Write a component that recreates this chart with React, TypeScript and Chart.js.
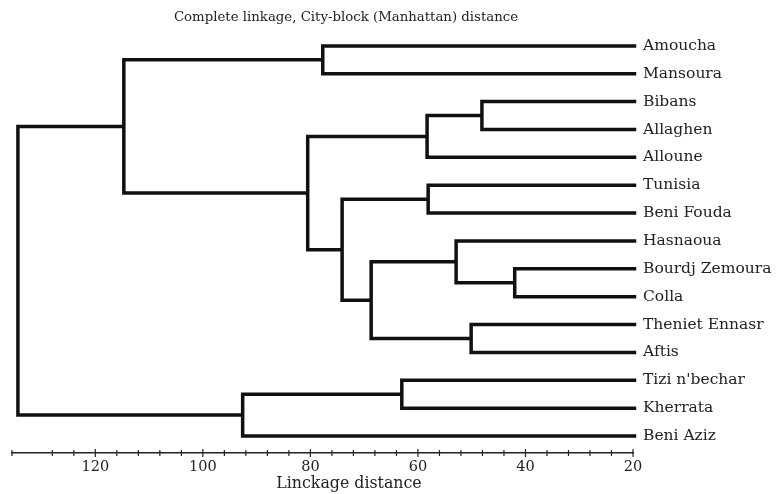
import React, { useEffect, useRef } from 'react';
import { Chart, registerables } from 'chart.js';

Chart.register(...registerables);

// ---- data ----
const leafNames = [
  'Amoucha',
  'Mansoura',
  'Bibans',
  'Allaghen',
  'Alloune',
  'Tunisia',
  'Beni Fouda',
  'Hasnaoua',
  'Bourdj Zemoura',
  'Colla',
  'Theniet Ennasr',
  'Aftis',
  "Tizi n'bechar",
  'Kherrata',
  'Beni Aziz',
];
const leafHeight = 19.4;
// merges: node ids 0..14 are leaves, 15.. are merges in order
const mergeLeft = [0, 2, 16, 5, 8, 7, 10, 20, 18, 17, 15, 12, 26, 25];
const mergeRight = [1, 3, 4, 6, 9, 19, 11, 21, 22, 23, 24, 13, 14, 27];
const mergeHeight = [77.7, 48.1, 58.3, 58.1, 42.0, 52.9, 50.1, 68.7, 74.1, 80.5, 114.7, 63.0, 92.6, 134.4];
const xTickLabels = [120, 100, 80, 60, 40, 20];
const chartTitle = 'Complete linkage, City-block (Manhattan) distance';
const xAxisTitle = 'Linckage distance';

const SERIF = '"DejaVu Serif", "Liberation Serif", serif';

export default function App() {
  const ref = useRef<HTMLCanvasElement | null>(null);

  useEffect(() => {
    if (!ref.current) return;
    const nodeY: number[] = leafNames.map((_, i) => i);
    const nodeH: number[] = leafNames.map(() => leafHeight);
    mergeLeft.forEach((a, k) => {
      const b = mergeRight[k];
      nodeY.push((nodeY[a] + nodeY[b]) / 2);
      nodeH.push(mergeHeight[k]);
    });
    const datasets = mergeLeft.map((a, k) => {
      const b = mergeRight[k];
      const h = mergeHeight[k];
      return {
        data: [
          { x: nodeH[a], y: nodeY[a] },
          { x: h, y: nodeY[a] },
          { x: h, y: nodeY[b] },
          { x: nodeH[b], y: nodeY[b] },
        ],
        showLine: true,
        borderColor: '#111',
        backgroundColor: '#111',
        borderWidth: 3.5,
        pointRadius: 0,
        pointHoverRadius: 0,
        fill: false,
        tension: 0,
        clip: false as any,
        borderJoinStyle: 'miter' as const,
      };
    });

    const decor = {
      id: 'decor',
      afterDraw(chart: any) {
        const ctx = chart.ctx;
        const xs = chart.scales.x;
        const yb = chart.chartArea.bottom;
        ctx.save();
        ctx.strokeStyle = '#222';
        ctx.lineWidth = 1.2;
        xs.ticks.forEach((t: any) => {
          const px = xs.getPixelForValue(t.value);
          const major = xTickLabels.includes(t.value);
          const len = major ? 4 : 3;
          ctx.beginPath();
          ctx.moveTo(px, yb - len);
          ctx.lineTo(px, yb + len);
          ctx.stroke();
        });
        ctx.fillStyle = '#222';
        ctx.textAlign = 'center';
        ctx.textBaseline = 'middle';
        ctx.font = '13.3px ' + SERIF;
        ctx.fillText(chartTitle, 346, 18);
        ctx.font = '15.8px ' + SERIF;
        ctx.fillText(xAxisTitle, 349, 484);
        ctx.restore();
      },
    };

    const chart = new Chart(ref.current, {
      type: 'scatter',
      data: { datasets: datasets as any },
      plugins: [decor],
      options: {
        animation: false,
        responsive: true,
        maintainAspectRatio: false,
        layout: { padding: { left: 12, top: 30, right: 0, bottom: 0 } },
        plugins: {
          legend: { display: false },
          tooltip: { enabled: false },
          title: { display: false },
        },
        scales: {
          x: {
            type: 'linear',
            position: 'bottom',
            reverse: true,
            min: 20,
            max: 135.5,
            grid: { display: false, drawTicks: false },
            border: { display: true, color: '#222', width: 1.5 },
            ticks: {
              stepSize: 4,
              autoSkip: false,
              maxRotation: 0,
              padding: 6,
              color: '#222',
              font: { family: SERIF, size: 14.5 },
              callback: (v: any) => (xTickLabels.includes(Number(v)) ? String(v) : ''),
            },
            afterFit: (s: any) => {
              s.height = 41;
            },
          },
          y: {
            type: 'linear',
            position: 'right',
            reverse: true,
            min: -0.57,
            max: 14.61,
            grid: { display: false, drawTicks: false },
            border: { display: false },
            afterBuildTicks: (s: any) => {
              s.ticks = leafNames.map((_, i) => ({ value: i }));
            },
            ticks: {
              autoSkip: false,
              padding: 10,
              color: '#222',
              font: { family: SERIF, size: 15.5 },
              callback: (v: any) => leafNames[Number(v)] ?? '',
            },
            afterFit: (s: any) => {
              s.width = 144;
            },
          },
        },
      },
    });
    return () => chart.destroy();
  }, []);

  return (
    <div style={{ position: 'absolute', left: 0, top: 0, width: 777, height: 494, background: '#fff' }}>
      <canvas ref={ref} />
    </div>
  );
}
